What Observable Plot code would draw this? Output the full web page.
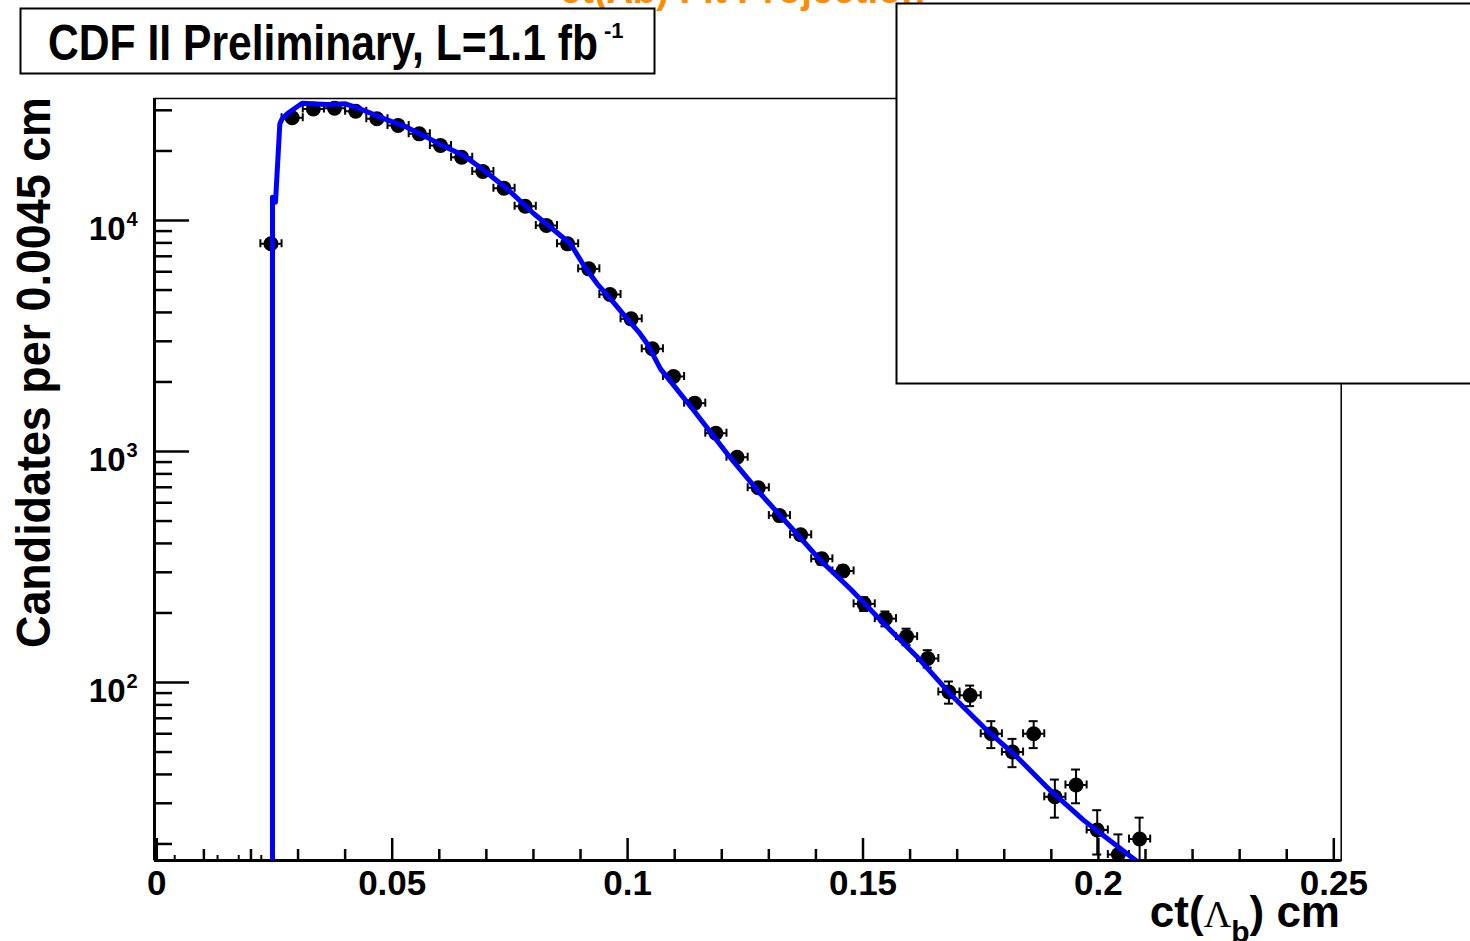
<!DOCTYPE html>
<html><head><meta charset="utf-8">
<script src="https://cdn.jsdelivr.net/npm/d3@7"></script>
<script src="https://cdn.jsdelivr.net/npm/@observablehq/plot@0.6"></script>
<style>
html,body{margin:0;padding:0;background:#fff;}
#chart{position:relative;width:1470px;height:941px;overflow:hidden;}
</style></head><body><div id="chart"></div>
<script>
// ---- data ----
const ctCenters = [0.02425,0.02875,0.03325,0.03775,0.04225,0.04675,0.05125,0.05575,0.06025,0.06475,
  0.06925,0.07375,0.07825,0.08275,0.08725,0.09175,0.09625,0.10075,0.10525,0.10975,
  0.11425,0.11875,0.12325,0.12775,0.13225,0.13675,0.14125,0.14575,0.15025,0.15475,
  0.15925,0.16375,0.16825,0.17275,0.17725,0.18175,0.18625,0.19075,0.19525,0.19975,
  0.20425,0.20875];
const candidates = [7930,27840,30400,30600,29730,27560,25780,23730,21120,18790,
  16300,13800,11530,9515,7925,6178,4783,3753,2784,2112,
  1619,1200,945,697,528,436,343,304,219,189,
  158,127,91,88,60,50,60,32,36,23,
  18,21];
const candErr = [89,167,174,175,172,166,161,154,145,137,
  128,117,107,98,89,79,69,61,53,46,
  40,35,31,26,23,21,19,17,15,14,
  13,11,10,9,8,7,8,6,6,5,
  4,5];
const binHalfWidth = 0.00225;
const fitCt = [0.02457,0.02457,0.02521,0.02613,0.02664,0.02770,0.02910,0.03088,0.03301,0.03619,
  0.04008,0.04327,0.04822,0.05319,0.05743,0.06026,0.06521,0.06946,0.07443,0.08008,
  0.08362,0.08787,0.0907,0.09354,0.09637,0.09992,0.10238,0.10416,0.10699,0.11406,
  0.12115,0.12823,0.1353,0.14097,0.14734,0.15442,0.16151,0.16859,0.17566,0.18275,
  0.18983,0.1969,0.20788,0.2102];
const fitVal = [10,12600,12000,26200,27600,29000,30400,32200,32000,31800,
  32000,30400,27600,25300,22900,21300,19100,16500,13700,10700,
  9350,7930,6390,5320,4580,3750,3290,2930,2280,1505,
  977,656,455,338,254,180,129,89,64,47.5,
  34,25.3,17,15.5];
const xTickLabels = [0, 0.05, 0.1, 0.15, 0.2, 0.25];
const xMinorTicks = [0.01,0.02,0.03,0.04,0.06,0.07,0.08,0.09,0.11,0.12,0.13,0.14,0.16,0.17,0.18,0.19,0.21,0.22,0.23,0.24];
const xOddTicks = [0.0038,0.0129,0.0174,0.0222];
const yMajorTicks = [100, 1000, 10000];
const yMinorTicks = [20,30,40,50,60,70,80,90,200,300,400,500,600,700,800,900,2000,3000,4000,5000,6000,7000,8000,9000,20000,30000];
const titleText = "CDF II Preliminary, L=1.1 fb";
const titleSup = "-1";
const yTitle = "Candidates per 0.0045 cm";
const topTitle = "ct(Λb) Fit Projection";

// ---- layout ----
const W = 1470, H = 941;
const ML = 154, MR = 129.3, MT = 98, MB = 81;
const xDomain = [-0.00049, 0.25157];
const yDomain = [16.96, 33745];
const pxPerX = (W - ML - MR) / (xDomain[1] - xDomain[0]);
const pxPerDecade = (H - MT - MB) / (Math.log10(yDomain[1]) - Math.log10(yDomain[0]));
const xLen = px => px / pxPerX;
const yMul = px => Math.pow(10, px / pxPerDecade);

const pts = ctCenters.map((x, i) => ({x, y: candidates[i], e: candErr[i]}));
const fit = fitCt.map((x, i) => ({x, y: fitVal[i]}));
const x0 = xDomain[0], y0 = yDomain[0];

const plot = Plot.plot({
  width: W, height: H,
  marginLeft: ML, marginRight: MR, marginTop: MT, marginBottom: MB,
  style: {fontFamily: "'Liberation Sans', Arial, sans-serif", fontWeight: "bold", background: "white", color: "black"},
  x: {domain: xDomain, axis: null},
  y: {type: "log", domain: yDomain, axis: null},
  marks: [
    Plot.frame({stroke: "black", strokeWidth: 1.5}),
    // axis lines
    Plot.ruleX([x0], {stroke: "black", strokeWidth: 3}),
    Plot.ruleY([y0], {stroke: "black", strokeWidth: 3}),
    // y ticks (inward)
    Plot.ruleY(yMajorTicks, {y: d => d, x1: () => x0, x2: () => x0 + xLen(35), stroke: "black", strokeWidth: 2.5}),
    Plot.ruleY(yMinorTicks, {y: d => d, x1: () => x0, x2: () => x0 + xLen(18), stroke: "black", strokeWidth: 2.5}),
    // x ticks (inward)
    Plot.ruleX(xTickLabels, {x: d => d, y1: () => y0, y2: () => y0 * yMul(22), stroke: "black", strokeWidth: 2.5}),
    Plot.ruleX(xMinorTicks, {x: d => d, y1: () => y0, y2: () => y0 * yMul(11), stroke: "black", strokeWidth: 2.5}),
    Plot.ruleX(xOddTicks, {x: d => d, y1: () => y0, y2: () => y0 * yMul(5), stroke: "black", strokeWidth: 2}),
    Plot.axisX({ticks: xTickLabels, tickSize: 0, tickPadding: 10, fontSize: 35, fontWeight: "bold", label: null, tickFormat: d => String(d)}),
    // y tick labels 10^n
    Plot.text(yMajorTicks, {y: d => d, frameAnchor: "left", text: () => "10", textAnchor: "end", lineAnchor: "bottom", dx: -29, dy: 19, fontSize: 33, fontWeight: "bold"}),
    Plot.text(yMajorTicks, {y: d => d, frameAnchor: "left", text: d => String(Math.round(Math.log10(d))), textAnchor: "start", lineAnchor: "bottom", dx: -28, dy: 5, fontSize: 20, fontWeight: "bold"}),
    // error bars
    Plot.ruleX(pts, {x: "x", y1: d => d.y - d.e, y2: d => d.y + d.e, stroke: "black", strokeWidth: 2, clip: true}),
    Plot.ruleY(pts, {y: d => d.y + d.e, x1: d => d.x - xLen(4.5), x2: d => d.x + xLen(4.5), stroke: "black", strokeWidth: 2, clip: true}),
    Plot.ruleY(pts, {y: d => d.y - d.e, x1: d => d.x - xLen(4.5), x2: d => d.x + xLen(4.5), stroke: "black", strokeWidth: 2, clip: true}),
    Plot.ruleY(pts, {y: "y", x1: d => d.x - binHalfWidth, x2: d => d.x + binHalfWidth, stroke: "black", strokeWidth: 2, clip: true}),
    Plot.ruleX(pts, {x: d => d.x - binHalfWidth, y1: d => d.y / yMul(4), y2: d => d.y * yMul(4), stroke: "black", strokeWidth: 2, clip: true}),
    Plot.ruleX(pts, {x: d => d.x + binHalfWidth, y1: d => d.y / yMul(4), y2: d => d.y * yMul(4), stroke: "black", strokeWidth: 2, clip: true}),
    Plot.dot(pts, {x: "x", y: "y", r: 7.5, fill: "black", stroke: "none", clip: true}),
    // fit curve
    Plot.line(fit, {x: "x", y: "y", stroke: "#0000ff", strokeWidth: 5, clip: true})
  ]
});

const svg = d3.select(plot);
const F = "'Liberation Sans', Arial, sans-serif";
// orange title, mostly above the page
svg.append("text").attr("x", 560).attr("y", 3).attr("text-anchor", "start").attr("font-family", F).attr("font-weight", "bold")
  .attr("font-size", 40).attr("fill", "#ff8c00").attr("textLength", 365).attr("lengthAdjust", "spacingAndGlyphs")
  .text(topTitle);
// title box
svg.append("rect").attr("x", 20.5).attr("y", 8.5).attr("width", 634).attr("height", 65)
  .attr("fill", "white").attr("stroke", "black").attr("stroke-width", 2);
svg.append("text").attr("x", 48).attr("y", 60).attr("text-anchor", "start").attr("font-family", F).attr("font-weight", "bold")
  .attr("font-size", 50).attr("fill", "black").attr("textLength", 550).attr("lengthAdjust", "spacingAndGlyphs")
  .text(titleText);
svg.append("text").attr("x", 604).attr("y", 38).attr("text-anchor", "start").attr("font-family", F).attr("font-weight", "bold")
  .attr("font-size", 22).attr("fill", "black").text(titleSup);
// empty legend box
svg.append("rect").attr("x", 896.5).attr("y", 3.5).attr("width", 600).attr("height", 380)
  .attr("fill", "white").attr("stroke", "black").attr("stroke-width", 2);
// y axis title
svg.append("text").attr("transform", "translate(50,648) rotate(-90)").attr("text-anchor", "start").attr("font-family", F)
  .attr("font-weight", "bold").attr("font-size", 48).attr("fill", "black")
  .attr("textLength", 551).attr("lengthAdjust", "spacingAndGlyphs").text(yTitle);
// x axis title ct(Λb) cm
const xt = svg.append("text").attr("x", 1340).attr("y", 927).attr("text-anchor", "end")
  .attr("font-family", F).attr("font-weight", "bold").attr("font-size", 44).attr("fill", "black");
xt.append("tspan").text("ct(");
xt.append("tspan").attr("font-family", "'Liberation Serif', 'Times New Roman', serif").attr("font-weight", "normal").attr("font-size", 38).text("Λ");
xt.append("tspan").attr("font-size", 30).attr("dy", 15).text("b");
xt.append("tspan").attr("dy", -15).text(") cm");

document.getElementById("chart").appendChild(plot);
</script>
</body></html>
